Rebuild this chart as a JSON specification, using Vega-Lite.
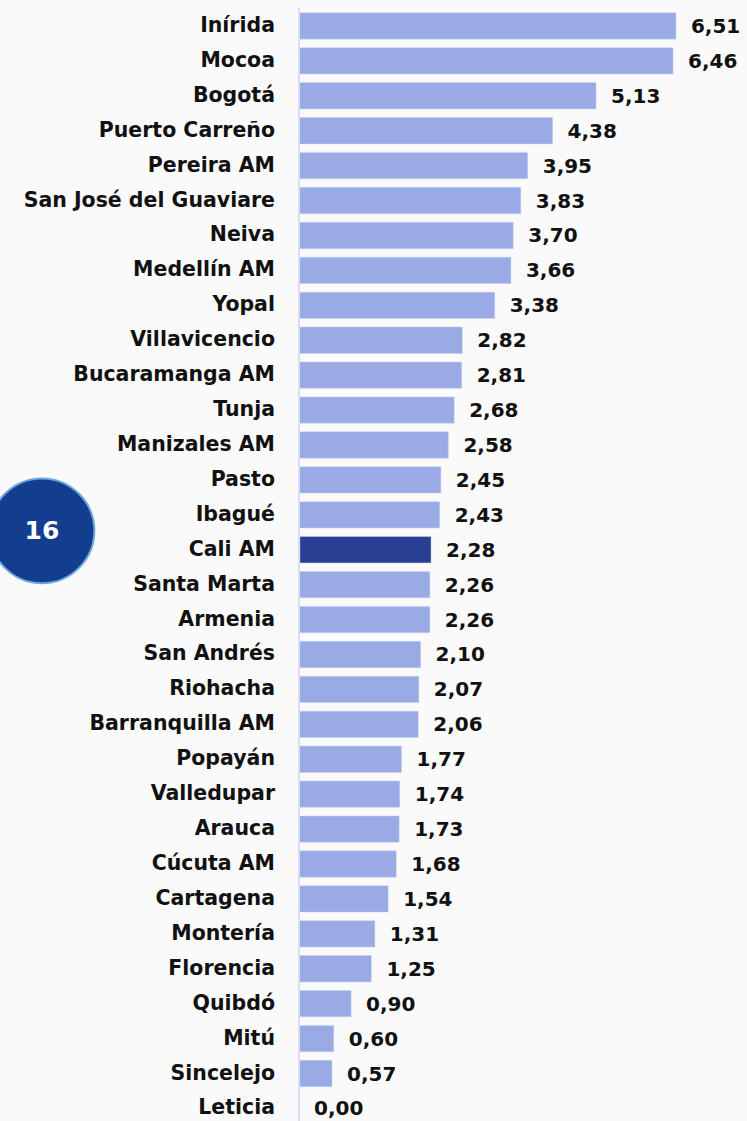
{
  "$schema": "https://vega.github.io/schema/vega-lite/v6.json",
  "width": 747,
  "height": 1117.4,
  "padding": {"top": 8.5, "left": 0, "right": 0, "bottom": 0},
  "autosize": {"type": "none"},
  "background": "#fafafa",
  "config": {
    "view": {"stroke": null},
    "locale": {"number": {"decimal": ",", "thousands": ".", "grouping": [3], "currency": ["$", ""]}},
    "font": "DejaVu Sans"
  },
  "data": {
    "values": [
      {"ciudad": "Inírida", "valor": 6.51, "dest": "no"},
      {"ciudad": "Mocoa", "valor": 6.46, "dest": "no"},
      {"ciudad": "Bogotá ", "valor": 5.13, "dest": "no"},
      {"ciudad": "Puerto Carreño", "valor": 4.38, "dest": "no"},
      {"ciudad": "Pereira AM", "valor": 3.95, "dest": "no"},
      {"ciudad": "San José del Guaviare", "valor": 3.83, "dest": "no"},
      {"ciudad": "Neiva", "valor": 3.70, "dest": "no"},
      {"ciudad": "Medellín AM", "valor": 3.66, "dest": "no"},
      {"ciudad": "Yopal", "valor": 3.38, "dest": "no"},
      {"ciudad": "Villavicencio", "valor": 2.82, "dest": "no"},
      {"ciudad": "Bucaramanga AM", "valor": 2.81, "dest": "no"},
      {"ciudad": "Tunja", "valor": 2.68, "dest": "no"},
      {"ciudad": "Manizales AM", "valor": 2.58, "dest": "no"},
      {"ciudad": "Pasto", "valor": 2.45, "dest": "no"},
      {"ciudad": "Ibagué", "valor": 2.43, "dest": "no"},
      {"ciudad": "Cali AM", "valor": 2.28, "dest": "si"},
      {"ciudad": "Santa Marta", "valor": 2.26, "dest": "no"},
      {"ciudad": "Armenia", "valor": 2.26, "dest": "no"},
      {"ciudad": "San Andrés", "valor": 2.10, "dest": "no"},
      {"ciudad": "Riohacha", "valor": 2.07, "dest": "no"},
      {"ciudad": "Barranquilla AM", "valor": 2.06, "dest": "no"},
      {"ciudad": "Popayán", "valor": 1.77, "dest": "no"},
      {"ciudad": "Valledupar", "valor": 1.74, "dest": "no"},
      {"ciudad": "Arauca", "valor": 1.73, "dest": "no"},
      {"ciudad": "Cúcuta AM", "valor": 1.68, "dest": "no"},
      {"ciudad": "Cartagena", "valor": 1.54, "dest": "no"},
      {"ciudad": "Montería", "valor": 1.31, "dest": "no"},
      {"ciudad": "Florencia", "valor": 1.25, "dest": "no"},
      {"ciudad": "Quibdó", "valor": 0.90, "dest": "no"},
      {"ciudad": "Mitú", "valor": 0.60, "dest": "no"},
      {"ciudad": "Sincelejo", "valor": 0.57, "dest": "no"},
      {"ciudad": "Leticia", "valor": 0.00, "dest": "no"}
    ]
  },
  "encoding": {
    "y": {
      "field": "ciudad",
      "type": "nominal",
      "sort": null,
      "axis": null,
      "scale": {"paddingInner": 0.245, "paddingOuter": 0.1225}
    }
  },
  "layer": [
    {
      "mark": {"type": "bar", "stroke": "#c9d2f3", "strokeWidth": 0.5},
      "encoding": {
        "x": {
          "field": "valor",
          "type": "quantitative",
          "axis": null,
          "scale": {"domain": [-5.164, 7.737], "nice": false, "zero": false}
        },
        "color": {
          "field": "dest",
          "type": "nominal",
          "legend": null,
          "scale": {"domain": ["no", "si"], "range": ["#9aaae4", "#283f94"]}
        }
      }
    },
    {
      "mark": {"type": "rule", "color": "#d8dcf4", "strokeWidth": 2},
      "encoding": {"x": {"datum": 0}, "y": null}
    },
    {
      "mark": {"type": "text", "align": "left", "baseline": "middle", "dx": 15, "dy": 1, "fontSize": 20, "fontWeight": "bold", "color": "#111111"},
      "encoding": {
        "x": {"field": "valor", "type": "quantitative"},
        "text": {"field": "valor", "type": "quantitative", "format": ".2f"}
      }
    },
    {
      "mark": {"type": "text", "align": "right", "baseline": "middle", "fontSize": 20.5, "fontWeight": "bold", "color": "#111111"},
      "encoding": {
        "x": {"datum": -0.415},
        "text": {"field": "ciudad", "type": "nominal"}
      }
    },
    {
      "data": {"values": [{"pos": "Ibagué", "rank": "16"}]},
      "layer": [
        {
          "mark": {"type": "circle", "color": "#133d8f", "opacity": 1, "stroke": "#6fa8e0", "strokeWidth": 2, "size": 11000, "yOffset": 16},
          "encoding": {
            "x": {"datum": -4.44},
            "y": {"field": "pos", "type": "nominal"}
          }
        },
        {
          "mark": {"type": "text", "align": "center", "baseline": "middle", "fontSize": 25, "fontWeight": "bold", "color": "#ffffff", "dy": 16},
          "encoding": {
            "x": {"datum": -4.44},
            "y": {"field": "pos", "type": "nominal"},
            "text": {"field": "rank", "type": "nominal"}
          }
        }
      ]
    }
  ]
}
